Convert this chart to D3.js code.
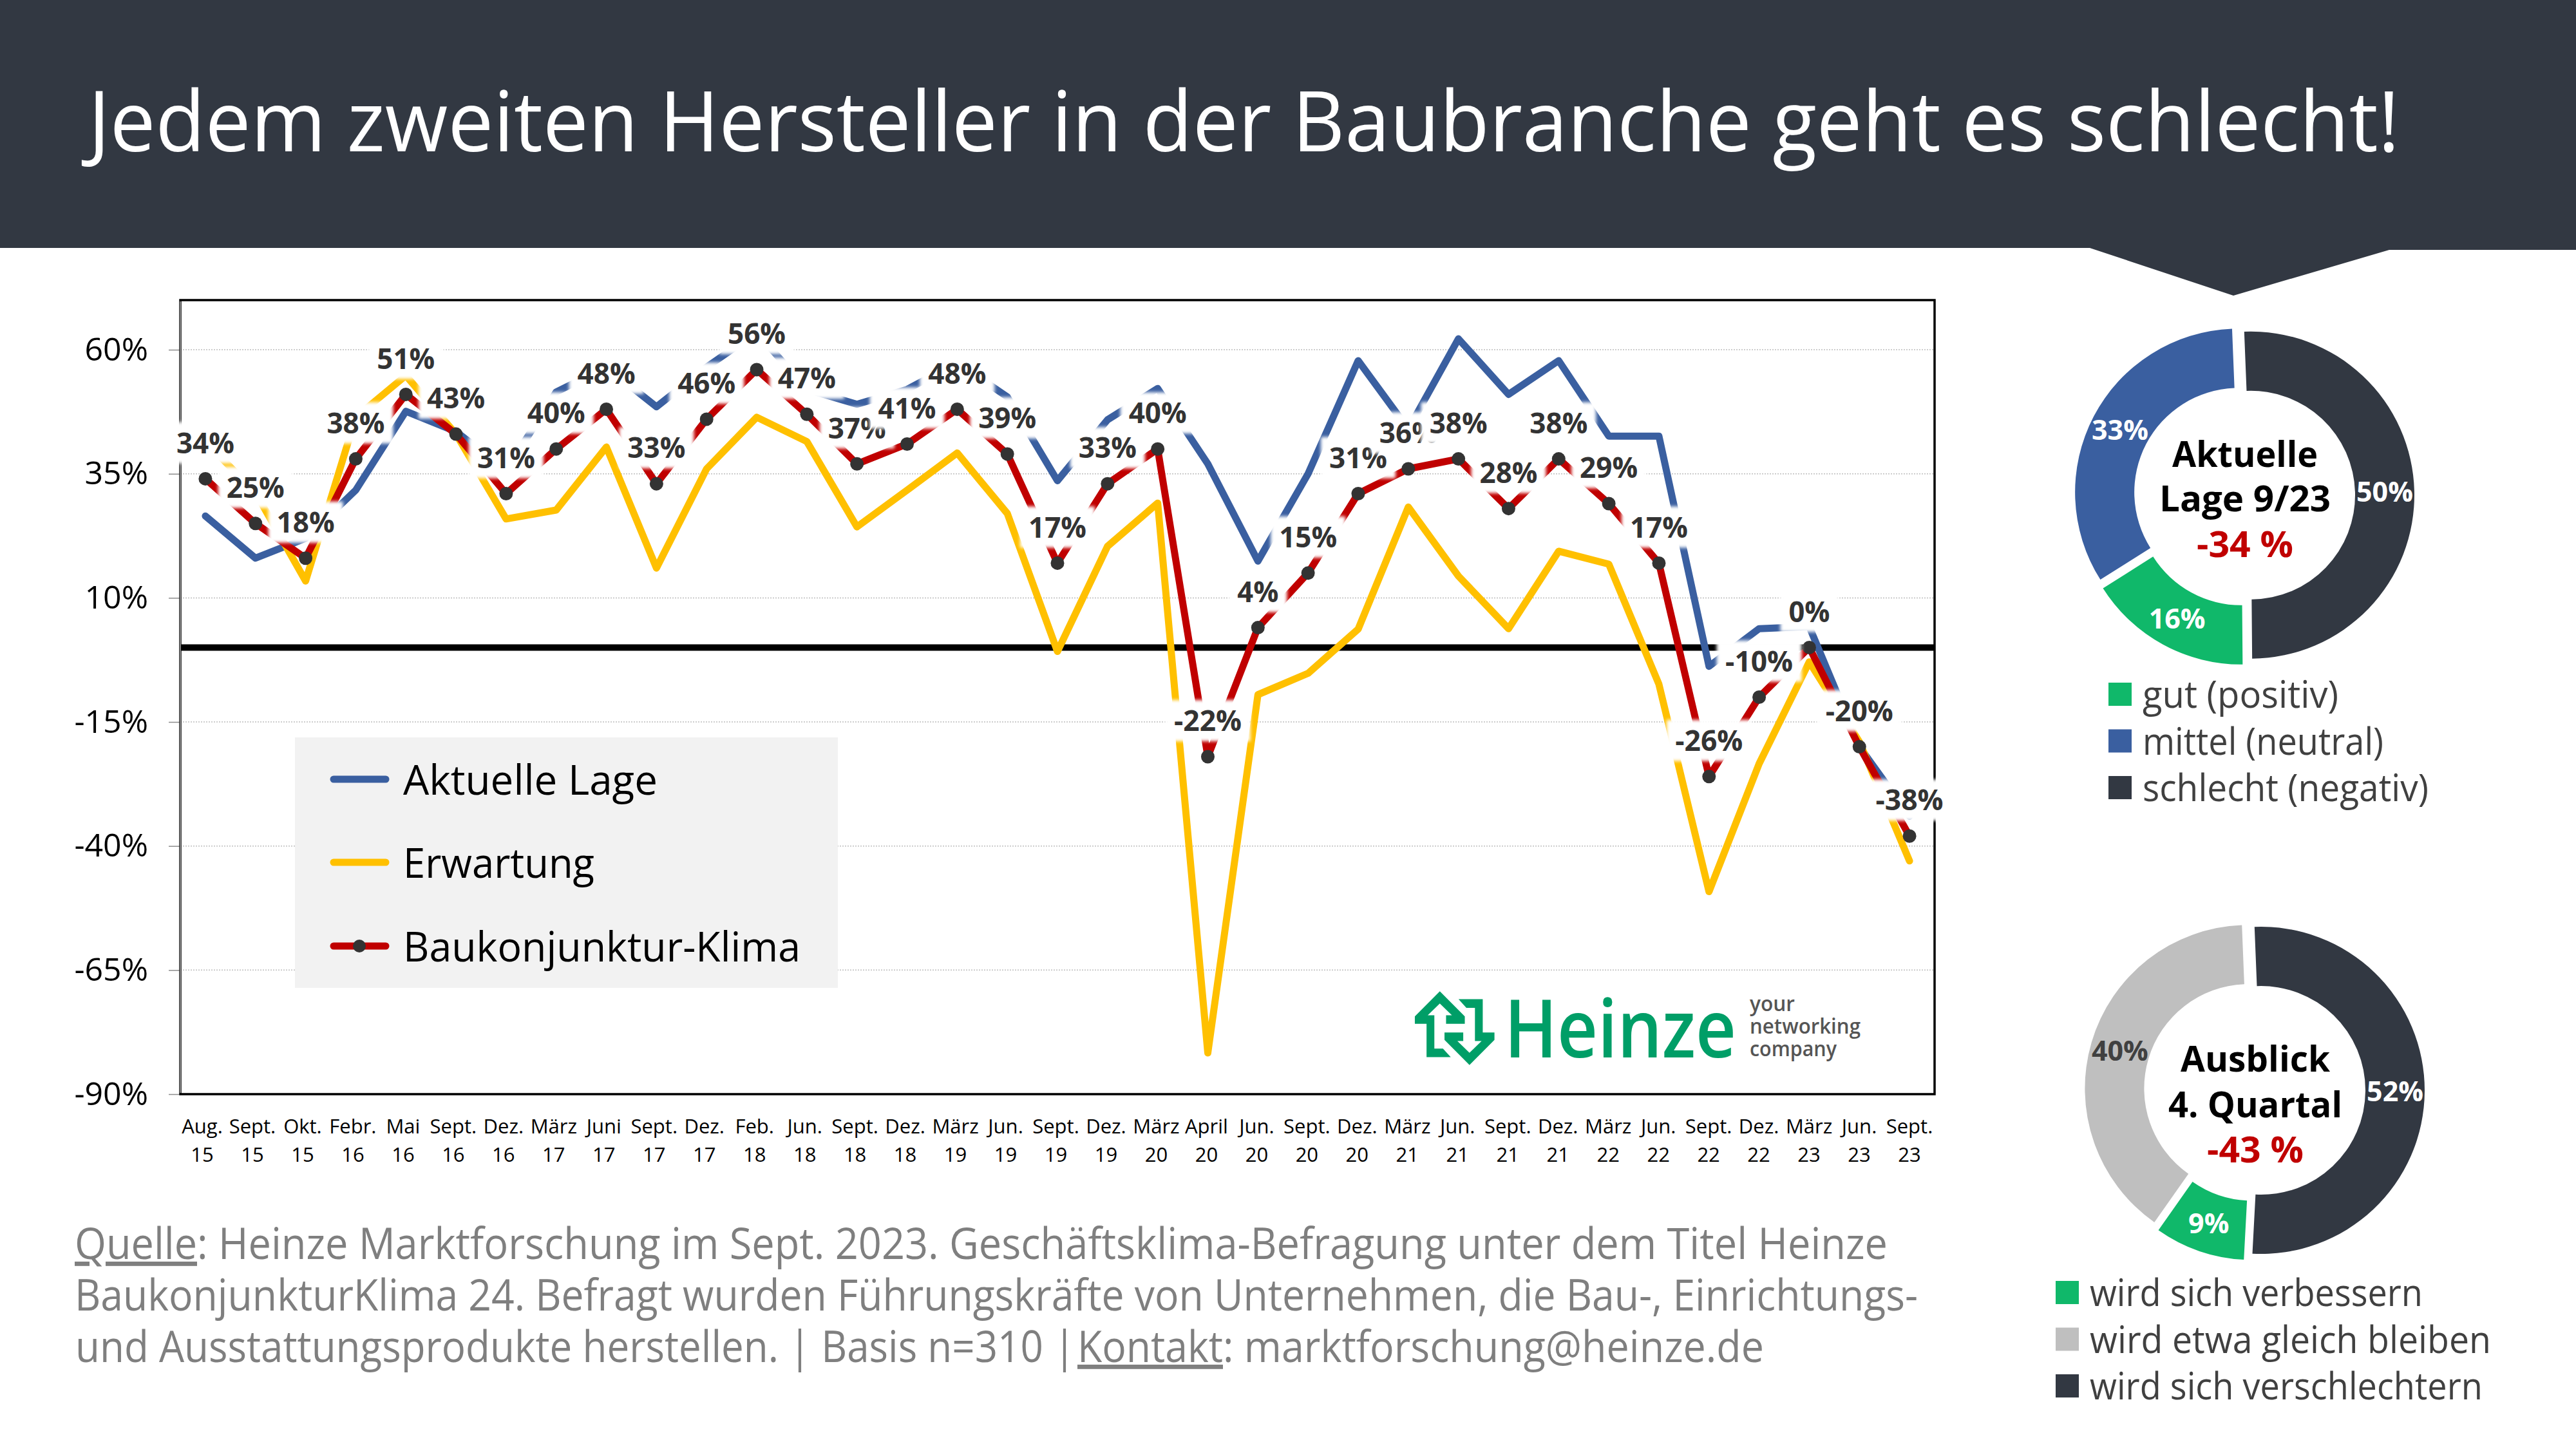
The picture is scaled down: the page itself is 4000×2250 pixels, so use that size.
<!DOCTYPE html>
<html lang="de">
<head>
<meta charset="utf-8">
<title>Heinze BaukonjunkturKlima</title>
<script src="https://cdn.jsdelivr.net/npm/d3@7"></script>
<style>
    html, body { margin: 0; padding: 0; background: #fff; }
    svg { display: block; }
    text { font-family: "Open Sans", "Noto Sans", sans-serif; }
</style>
</head>
<body>
<div id="chart"></div>
<script>
// Chart data
const months = ['Aug.', 'Sept.', 'Okt.', 'Febr.', 'Mai', 'Sept.', 'Dez.', 'März', 'Juni', 'Sept.', 'Dez.', 'Feb.',
    'Jun.', 'Sept.', 'Dez.', 'März', 'Jun.', 'Sept.', 'Dez.', 'März', 'April', 'Jun.', 'Sept.', 'Dez.', 'März',
    'Jun.', 'Sept.', 'Dez.', 'März', 'Jun.', 'Sept.', 'Dez.', 'März', 'Jun.', 'Sept.'];
const years = ['15', '15', '15', '16', '16', '16', '16', '17', '17', '17', '17', '18', '18', '18', '18', '19', '19',
    '19', '19', '20', '20', '20', '20', '20', '21', '21', '21', '21', '22', '22', '22', '22', '23', '23', '23'];

const lage = [26.5, 18, 22, 31.7, 47.6, 43.5, 35.7, 51.5, 56.5, 48.5, 56.5, 63.5, 52, 49, 52, 57.4, 50.5, 33.6, 45.9,
    52.2, 37, 17.4, 35, 57.8, 44, 62.2, 51, 57.8, 42.6, 42.6, -3.8, 3.8, 4.2, -20, -34];
const erwartung = [41.5, 31.2, 13.4, 46.4, 54.8, 43, 25.9, 27.7, 40.4, 16, 36, 46.4, 41.5, 24.3, 31.7, 39.2, 27, -0.8,
    20.4, 29.1, -81.7, -9.5, -5.2, 3.7, 28.3, 14.4, 3.8, 19.4, 16.8, -7.4, -49.2, -23.4, -2.9, -19, -43];
const klima = [34, 25, 18, 38, 51, 43, 31, 40, 48, 33, 46, 56, 47, 37, 41, 48, 39, 17, 33, 40, -22, 4, 15, 31, 36, 38,
    28, 38, 29, 17, -26, -10, 0, -20, -38];

const yTicks = [60, 35, 10, -15, -40, -65, -90];

const lageDonut = [50, 16, 33];
const lageDonutColors = ['#323842', '#10b86a', '#3a5fa0'];
const lageDonutLabelColors = ['#fff', '#fff', '#fff'];
const lageLegend = ['gut (positiv)', 'mittel (neutral)', 'schlecht (negativ)'];
const lageLegendColors = ['#10b86a', '#3a5fa0', '#323842'];

const ausblickDonut = [52, 9, 40];
const ausblickDonutColors = ['#323842', '#10b86a', '#bfbfbf'];
const ausblickDonutLabelColors = ['#fff', '#fff', '#404040'];
const ausblickLegend = ['wird sich verbessern', 'wird etwa gleich bleiben', 'wird sich verschlechtern'];
const ausblickLegendColors = ['#10b86a', '#bfbfbf', '#323842'];

const BLUE = '#3a5fa0';
const YELLOW = '#ffc000';
const RED = '#c00000';
const DARK = '#323842';
const MARKER = '#333333';
const NOTE_GRAY = '#7f7f7f';

const svg = d3.select('#chart').append('svg')
    .attr('width', 4000)
    .attr('height', 2250)
    .attr('viewBox', '0 0 4000 2250');

// Soft edge for the white boxes behind the value labels
svg.append('defs').append('filter')
    .attr('id', 'soft')
    .attr('x', '-20%').attr('y', '-30%').attr('width', '140%').attr('height', '160%')
    .append('feGaussianBlur')
    .attr('stdDeviation', 2.5);

// Fit a text to the width it has in the reference, the fonts here are a bit wider
function fit(sel, width) {
    return sel.attr('textLength', width).attr('lengthAdjust', 'spacingAndGlyphs');
}

// Header band with the pointer above the first donut
svg.append('path')
    .attr('d', 'M0,0H4000V388H3710L3468,459L3245,385H0Z')
    .attr('fill', DARK);

svg.append('text')
    .attr('x', 137)
    .attr('y', 235)
    .attr('font-size', 130)
    .attr('fill', '#fff')
    .text('Jedem zweiten Hersteller in der Baubranche geht es schlecht!')
    .call(fit, 3589);

// Scales
const plot = { left: 280, right: 3004, top: 466, bottom: 1699 };

const x = d3.scalePoint()
    .domain(d3.range(months.length))
    .range([plot.left, plot.right])
    .padding(0.5);

const xLabel = d3.scalePoint()
    .domain(d3.range(months.length))
    .range([314, 2965]);

const y = d3.scaleLinear()
    .domain([-90, 70])
    .range([plot.bottom, plot.top]);

// Gridlines
svg.append('g')
    .selectAll('line')
    .data(yTicks)
    .enter()
    .append('line')
    .attr('x1', plot.left)
    .attr('x2', plot.right)
    .attr('y1', d => y(d))
    .attr('y2', d => y(d))
    .attr('stroke', '#bdbdbd')
    .attr('stroke-width', 1.5)
    .attr('stroke-dasharray', '2 2');

// Y axis
const yAxis = svg.append('g')
    .attr('transform', `translate(${plot.left},0)`)
    .call(d3.axisLeft(y).tickValues(yTicks).tickSize(18).tickPadding(32).tickFormat(d => `${d}%`));
yAxis.select('.domain').remove();
yAxis.selectAll('.tick line').attr('stroke', '#8c8c8c').attr('stroke-width', 1.5);
yAxis.selectAll('.tick text')
    .attr('font-family', '"Open Sans", "Noto Sans", sans-serif')
    .attr('font-size', 50)
    .attr('fill', '#000');

// X labels, month over year
const xLabels = svg.append('g')
    .selectAll('g')
    .data(months)
    .enter()
    .append('g')
    .attr('transform', (d, i) => `translate(${xLabel(i)},0)`);
xLabels.append('text')
    .attr('y', 1760)
    .attr('text-anchor', 'middle')
    .attr('font-size', 31)
    .attr('fill', '#000')
    .text(d => d);
xLabels.append('text')
    .attr('y', 1804)
    .attr('text-anchor', 'middle')
    .attr('font-size', 31)
    .attr('fill', '#000')
    .text((d, i) => years[i]);

// Zero line
svg.append('line')
    .attr('x1', plot.left)
    .attr('x2', plot.right)
    .attr('y1', y(0))
    .attr('y2', y(0))
    .attr('stroke', '#000')
    .attr('stroke-width', 10);

// Lines
const line = d3.line()
    .x((d, i) => x(i))
    .y(d => y(d));

[[lage, BLUE], [erwartung, YELLOW], [klima, RED]].forEach(([values, color]) => {
    svg.append('path')
        .datum(values)
        .attr('d', line)
        .attr('fill', 'none')
        .attr('stroke', color)
        .attr('stroke-width', 11)
        .attr('stroke-linecap', 'round')
        .attr('stroke-linejoin', 'round');
});

svg.append('g')
    .selectAll('circle')
    .data(klima)
    .enter()
    .append('circle')
    .attr('cx', (d, i) => x(i))
    .attr('cy', d => y(d))
    .attr('r', 10.5)
    .attr('fill', MARKER);

// Plot frame, the left spine has a thin light core
svg.append('rect')
    .attr('x', plot.left)
    .attr('y', plot.top)
    .attr('width', plot.right - plot.left)
    .attr('height', plot.bottom - plot.top)
    .attr('fill', 'none')
    .attr('stroke', '#000')
    .attr('stroke-width', 3.5);
svg.append('line')
    .attr('x1', plot.left)
    .attr('x2', plot.left)
    .attr('y1', plot.top + 2)
    .attr('y2', plot.bottom - 2)
    .attr('stroke', '#fff')
    .attr('stroke-width', 1);

// Line legend
svg.append('rect')
    .attr('x', 458)
    .attr('y', 1145)
    .attr('width', 843)
    .attr('height', 389)
    .attr('fill', '#f2f2f2');

const lineLegend = svg.append('g')
    .selectAll('g')
    .data([['Aktuelle Lage', BLUE, 395], ['Erwartung', YELLOW, 297], ['Baukonjunktur-Klima', RED, 617]])
    .enter()
    .append('g')
    .attr('transform', (d, i) => `translate(0,${[1210, 1339, 1469][i]})`);
lineLegend.append('line')
    .attr('x1', 518)
    .attr('x2', 599)
    .attr('stroke', d => d[1])
    .attr('stroke-width', 11)
    .attr('stroke-linecap', 'round');
lineLegend.filter((d, i) => i === 2)
    .append('circle')
    .attr('cx', 558)
    .attr('r', 10)
    .attr('fill', MARKER);
lineLegend.append('text')
    .attr('x', 626)
    .attr('y', 24)
    .attr('font-size', 64)
    .attr('fill', '#000')
    .text(d => d[0])
    .each(function(d) { d3.select(this).call(fit, d[2]); });

// Heinze logo
const logo = svg.append('g')
    .attr('transform', 'translate(2100,1450) scale(0.606,0.333)')
    .attr('fill', '#009e67');
const arrow = 'M224,268L288,385V420H240V380H255L224,325L193,380H210V535H232L252,575H190V420H160V385Z';
logo.append('path').attr('d', arrow);
logo.append('path').attr('d', arrow).attr('transform', 'rotate(180 262 440)');

svg.append('text')
    .attr('x', 2336)
    .attr('y', 1642)
    .attr('font-size', 125)
    .attr('font-weight', 600)
    .attr('fill', '#009e67')
    .text('Heinze')
    .call(fit, 360);
svg.append('g')
    .selectAll('text')
    .data([['your', 70], ['networking', 172], ['company', 135]])
    .enter()
    .append('text')
    .attr('x', 2717)
    .attr('y', (d, i) => [1570, 1605, 1640][i])
    .attr('font-size', 33)
    .attr('font-weight', 600)
    .attr('fill', '#555')
    .text(d => d[0])
    .each(function(d) { d3.select(this).call(fit, d[1]); });

// Value labels with their white boxes, each sits at the same distance above the marker
const labels = svg.append('g')
    .selectAll('g')
    .data(klima)
    .enter()
    .append('g')
    .attr('transform', (d, i) => `translate(${x(i)},${y(d) - 56})`);
labels.append('rect')
    .attr('x', d => -labelBoxWidth(d) / 2)
    .attr('y', -32)
    .attr('width', labelBoxWidth)
    .attr('height', 64)
    .attr('fill', '#fff')
    .attr('filter', 'url(#soft)');
labels.append('text')
    .attr('text-anchor', 'middle')
    .attr('dy', '0.36em')
    .attr('font-size', 45)
    .attr('font-weight', 700)
    .attr('fill', '#333')
    .text(d => `${d}%`)
    .each(function(d) {
        const digits = `${Math.abs(d)}`.length;
        d3.select(this).call(fit, (d < 0 ? 15 : 0) + digits * 26 + 38);
    });

function labelBoxWidth(d) {
    if (d < 0) return 132;
    return d < 10 ? 90 : 116;
}

// Donuts
function drawDonut(values, colors, labelColors, cx, cy) {
    const pie = d3.pie()
        .sort(null)
        .startAngle(-2.3 * Math.PI / 180)
        .endAngle(357.7 * Math.PI / 180);
    const arc = d3.arc().innerRadius(162).outerRadius(254);
    const explode = 10;

    const slices = svg.append('g')
        .attr('transform', `translate(${cx},${cy})`)
        .selectAll('g')
        .data(pie(values))
        .enter()
        .append('g')
        .attr('transform', d => {
            const mid = (d.startAngle + d.endAngle) / 2;
            return `translate(${explode * Math.sin(mid)},${-explode * Math.cos(mid)})`;
        });
    slices.append('path')
        .attr('d', arc)
        .attr('fill', (d, i) => colors[i]);
    slices.append('text')
        .attr('transform', d => `translate(${arc.centroid(d)})`)
        .attr('text-anchor', 'middle')
        .attr('dy', '0.36em')
        .attr('font-size', 43)
        .attr('font-weight', 700)
        .attr('fill', (d, i) => labelColors[i])
        .text(d => `${d.data}%`);
}

drawDonut(lageDonut, lageDonutColors, lageDonutLabelColors, 3485, 769);
drawDonut(ausblickDonut, ausblickDonutColors, ausblickDonutLabelColors, 3501, 1693);

function centerText(lines, cx, baselines, widths) {
    svg.append('g')
        .selectAll('text')
        .data(lines)
        .enter()
        .append('text')
        .attr('x', cx)
        .attr('y', (d, i) => baselines[i])
        .attr('text-anchor', 'middle')
        .attr('font-size', 56)
        .attr('font-weight', 700)
        .attr('fill', (d, i) => (i === 2 ? RED : '#000'))
        .text(d => d)
        .each(function(d, i) { d3.select(this).call(fit, widths[i]); });
}

centerText(['Aktuelle', 'Lage 9/23', '-34 %'], 3486, [725, 794, 865], [226, 266, 150]);
centerText(['Ausblick', '4. Quartal', '-43 %'], 3502, [1664, 1735, 1805], [232, 270, 150]);

// Donut legends
function donutLegend(items, colors, left, top, widths) {
    const row = svg.append('g')
        .selectAll('g')
        .data(items)
        .enter()
        .append('g')
        .attr('transform', (d, i) => `translate(${left},${top + i * 72.5})`);
    row.append('rect')
        .attr('width', 36)
        .attr('height', 36)
        .attr('fill', (d, i) => colors[i]);
    row.append('text')
        .attr('x', 53)
        .attr('y', 39)
        .attr('font-size', 58)
        .attr('fill', '#404040')
        .text(d => d)
        .each(function(d, i) { d3.select(this).call(fit, widths[i]); });
}

donutLegend(lageLegend, lageLegendColors, 3274, 1060, [304, 374, 444]);
donutLegend(ausblickLegend, ausblickLegendColors, 3192, 1989, [517, 623, 610]);

// Source note, one text per stretch so the underlined words land where they belong
const noteParts = [
    ['Quelle', 116, 1955, 190, true],
    [': Heinze Marktforschung im Sept. 2023. Geschäftsklima-Befragung unter dem Titel Heinze', 306, 1955, 2625, false],
    ['BaukonjunkturKlima 24. Befragt wurden Führungskräfte von Unternehmen, die Bau-, Einrichtungs-', 116, 2035, 2862, false],
    ['und Ausstattungsprodukte herstellen. | Basis n=310 |', 117, 2115, 1553, false],
    ['Kontakt', 1673, 2115, 226, true],
    [': marktforschung@heinze.de', 1899, 2115, 840, false]
];

svg.append('g')
    .selectAll('text')
    .data(noteParts)
    .enter()
    .append('text')
    .attr('x', d => d[1])
    .attr('y', d => d[2])
    .attr('font-size', 68)
    .attr('fill', NOTE_GRAY)
    .attr('text-decoration', d => (d[4] ? 'underline' : null))
    .text(d => d[0])
    .each(function(d) { d3.select(this).call(fit, d[3]); });
</script>
</body>
</html>
